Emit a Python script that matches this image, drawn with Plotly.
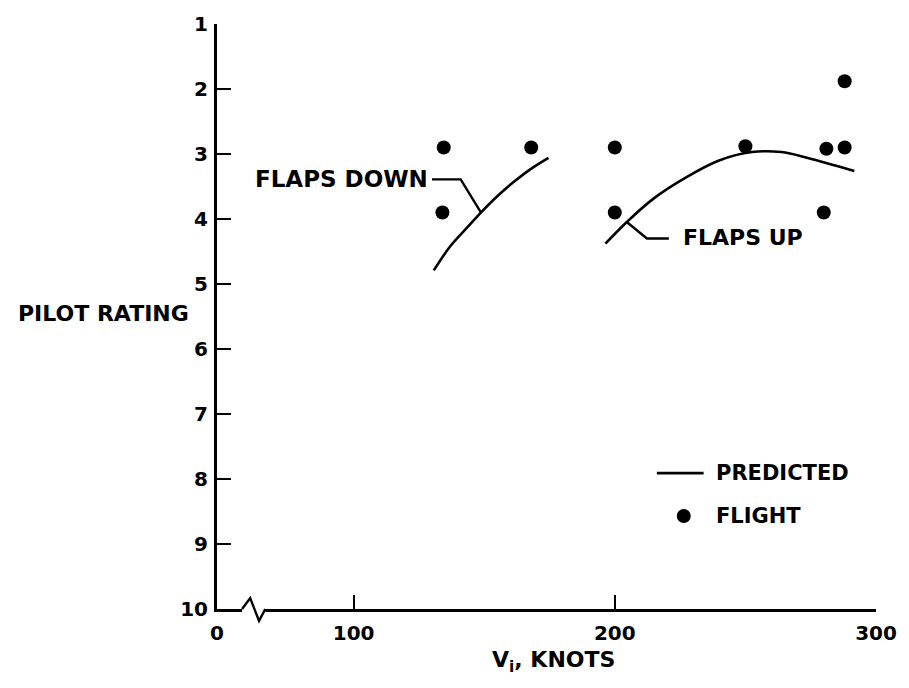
import plotly.graph_objects as go

# Predicted pilot-rating curves (speed in knots, rating)
down_pred_v = [130.7, 137.0, 143.5, 149.0, 155.0, 161.0, 167.5, 174.6]
down_pred_r = [4.79, 4.42, 4.13, 3.89, 3.65, 3.44, 3.24, 3.06]
up_pred_v = [196.4, 204.5, 214.7, 227.3, 239.9, 252.5, 263.8, 273.9, 291.7]
up_pred_r = [4.38, 4.05, 3.69, 3.36, 3.10, 2.97, 2.97, 3.06, 3.26]

# Flight-test ratings
flight_v = [134.5, 168.0, 134.0, 200.0, 200.0, 250.0, 281.0, 288.0, 288.0, 280.0]
flight_r = [2.90, 2.90, 3.90, 2.90, 3.90, 2.88, 2.92, 2.90, 1.88, 3.90]

# Axis ticks (x axis is broken between 0 and 100)
x_break_start = 47.7
x_tickvals = [x_break_start, 100, 200, 300]
x_ticktext = ["0", "100", "200", "300"]
y_tickvals = list(range(1, 11))

FONT = "DejaVu Sans"
INK = "black"

fig = go.Figure()
for v, r in [(down_pred_v, down_pred_r), (up_pred_v, up_pred_r)]:
    fig.add_trace(go.Scatter(x=v, y=r, mode="lines",
                             line=dict(color=INK, width=2.6, shape="spline", smoothing=1.0),
                             showlegend=False, hoverinfo="skip"))
fig.add_trace(go.Scatter(x=flight_v, y=flight_r, mode="markers",
                         marker=dict(color=INK, size=14),
                         showlegend=False))

tickfont = dict(family=FONT, size=20, color=INK, weight="bold")
fig.update_xaxes(range=[x_break_start, 300], tickvals=x_tickvals, ticktext=x_ticktext,
                 showline=True, linecolor=INK, linewidth=3, ticks="inside",
                 ticklen=14, tickwidth=2, tickcolor=INK, showgrid=False,
                 zeroline=False, tickfont=tickfont, ticklabelstandoff=4)
fig.update_yaxes(range=[10, 1], tickvals=y_tickvals,
                 showline=True, linecolor=INK, linewidth=3, ticks="inside",
                 ticklen=14, tickwidth=2, tickcolor=INK, showgrid=False,
                 zeroline=False, tickfont=tickfont, ticklabelstandoff=2)

lab = dict(family=FONT, size=22, color=INK, weight="bold")
leg = dict(family=FONT, size=21, color=INK, weight="bold")
annotations = [
    dict(x=-0.305, y=0.505, xref="paper", yref="paper", text="PILOT RATING",
         xanchor="left", yanchor="middle", showarrow=False, font=lab),
    dict(x=0.511, y=-0.09, xref="paper", yref="paper", text="V<sub>i</sub>, KNOTS",
         xanchor="center", yanchor="middle", showarrow=False, font=lab),
    dict(x=129.2, y=3.39, text="FLAPS DOWN", xanchor="right", yanchor="middle",
         showarrow=False, font=dict(lab, size=23)),
    dict(x=225.2, y=4.28, text="FLAPS UP", xanchor="left", yanchor="middle",
         showarrow=False, font=lab),
    dict(x=238.1, y=7.91, text="PREDICTED", xanchor="left", yanchor="middle",
         showarrow=False, font=leg),
    dict(x=238.1, y=8.57, text="FLIGHT", xanchor="left", yanchor="middle",
         showarrow=False, font=leg),
]

shapes = [
    # leader lines from the curve labels
    dict(type="path", path="M 130.0,3.39 L 141.0,3.39 L 148.6,3.89",
         line=dict(color=INK, width=2.4)),
    dict(type="path", path="M 204.7,4.05 L 212.3,4.30 L 220.7,4.30",
         line=dict(color=INK, width=2.4)),
    # legend glyphs
    dict(type="line", x0=216.1, x1=234.0, y0=7.91, y1=7.91,
         line=dict(color=INK, width=2.6)),
    dict(type="circle", xsizemode="pixel", ysizemode="pixel",
         xanchor=226.4, yanchor=8.57, x0=-7, x1=7, y0=-7, y1=7,
         fillcolor=INK, line=dict(width=0)),
    # axis break symbol
    dict(type="line", xref="x", yref="paper", x0=57.3, x1=66.2, y0=0, y1=0,
         line=dict(color="white", width=6)),
    dict(type="path", xref="x", yref="paper",
         path="M 57.3,0 L 60.4,0.0186 L 63.8,-0.0203 L 66.2,0",
         line=dict(color=INK, width=2.4)),
]

fig.update_layout(width=909, height=688,
                  margin=dict(l=217, r=28, t=18, b=79),
                  paper_bgcolor="white", plot_bgcolor="white",
                  annotations=annotations, shapes=shapes, showlegend=False)

fig.write_html("out.html")
